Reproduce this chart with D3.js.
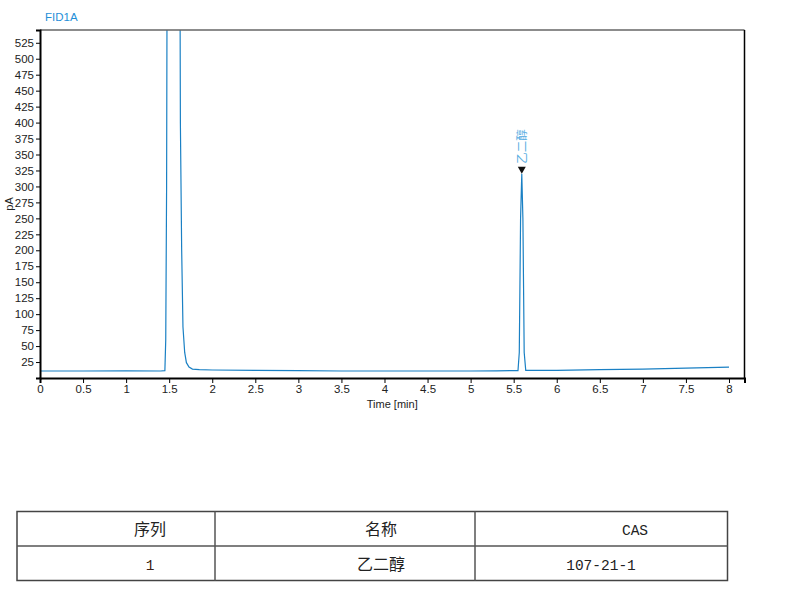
<!DOCTYPE html>
<html>
<head>
<meta charset="utf-8">
<script src="https://cdn.jsdelivr.net/npm/d3@7"></script>
<style>
  body { margin: 0; background: #fff; }
  svg { display: block; }
</style>
</head>
<body>
<script>
// chromatogram trace (time in min, signal in pA)
const times = [0, 0.5, 1.0, 1.4, 1.45, 1.46, 1.47, 1.48, 1.62, 1.63, 1.645, 1.66, 1.68, 1.70, 1.73, 1.77, 1.85,
  2.0, 2.5, 3.0, 3.5, 4.0, 4.5, 5.0, 5.3, 5.55, 5.565, 5.58, 5.594, 5.607, 5.622, 5.64, 6.0, 6.5, 7.0, 7.5, 8.0];
const signal = [11, 11, 11.3, 11, 11.5, 60, 300, 900, 900, 400, 200, 80, 40, 24, 17, 14, 13,
  12.5, 12, 11.5, 11, 11, 11, 11, 11.3, 11.5, 40, 250, 320, 250, 40, 12, 12, 13, 14, 15.5, 17];

// peak annotations
const peakTimes = [5.594];
const peakHeights = [320];
const peakNames = ["乙二醇"];

// axis ticks
const yTicks = d3.range(25, 526, 25);
const xTicks = d3.range(0, 8.01, 0.5);

// table below the chart
const tableHeader = ["序列", "名称", "CAS"];
const tableRow = ["1", "乙二醇", "107-21-1"];

const width = 787, height = 594;
const plot = { left: 40, right: 744.5, top: 30, bottom: 378 };
const lineColor = "#1a80c4";

const svg = d3.select("body").append("svg")
  .attr("width", width)
  .attr("height", height);

const x = d3.scaleLinear().domain([0, 8.18]).range([plot.left, plot.right]);
const y = d3.scaleLinear().domain([0, 545]).range([plot.bottom, plot.top]);

// title
svg.append("text")
  .attr("x", 45).attr("y", 21)
  .attr("font-family", "Liberation Sans, Arial, sans-serif")
  .attr("font-size", 11.5)
  .attr("fill", "#1f8fd8")
  .text("FID1A");

// clip for the off-scale solvent peak
svg.append("clipPath").attr("id", "clip")
  .append("rect")
  .attr("x", plot.left).attr("y", plot.top)
  .attr("width", plot.right - plot.left).attr("height", plot.bottom - plot.top);

const pts = times.map((t, i) => [t, signal[i]]);
svg.append("path")
  .datum(pts)
  .attr("clip-path", "url(#clip)")
  .attr("fill", "none")
  .attr("stroke", lineColor)
  .attr("stroke-width", 1.2)
  .attr("d", d3.line().x(d => x(d[0])).y(d => y(d[1])));

// frame
svg.append("line").attr("x1", plot.left).attr("x2", plot.right).attr("y1", plot.top).attr("y2", plot.top)
  .attr("stroke", "#666").attr("stroke-width", 1.5);
svg.append("line").attr("x1", plot.right).attr("x2", plot.right).attr("y1", plot.top).attr("y2", plot.bottom)
  .attr("stroke", "#000").attr("stroke-width", 1.5);

// y axis
const yAxis = svg.append("g")
  .attr("transform", `translate(${plot.left},0)`)
  .call(d3.axisLeft(y).tickValues(yTicks).tickSize(4).tickPadding(2).tickFormat(d3.format("d")));
yAxis.select(".domain").attr("stroke", "#000").attr("stroke-width", 2);

// x axis
const xAxis = svg.append("g")
  .attr("transform", `translate(0,${plot.bottom})`)
  .call(d3.axisBottom(x).tickValues(xTicks).tickSize(5).tickPadding(2).tickFormat(d3.format("~g")));
xAxis.select(".domain").attr("stroke", "#000").attr("stroke-width", 2);

svg.selectAll(".tick text")
  .attr("font-family", "Liberation Sans, Arial, sans-serif")
  .attr("font-size", 11.5)
  .attr("fill", "#222");

// axis titles
svg.append("text")
  .attr("x", (plot.left + plot.right) / 2)
  .attr("y", 408)
  .attr("text-anchor", "middle")
  .attr("font-family", "Liberation Sans, Arial, sans-serif")
  .attr("font-size", 11)
  .attr("fill", "#222")
  .text("Time [min]");

svg.append("text")
  .attr("transform", "translate(13,204) rotate(-90)")
  .attr("text-anchor", "middle")
  .attr("font-family", "Liberation Sans, Arial, sans-serif")
  .attr("font-size", 11)
  .attr("fill", "#222")
  .text("pA");

// peak markers + names
peakTimes.forEach((t, i) => {
  const px = x(t), py = y(peakHeights[i]);
  svg.append("path")
    .attr("d", `M${px - 4},${py - 7}L${px + 4},${py - 7}L${px},${py}Z`)
    .attr("fill", "#111");
  svg.append("text")
    .attr("transform", `translate(${px},${py - 10}) rotate(-90)`)
    .attr("dy", "0.35em")
    .attr("text-anchor", "start")
    .attr("font-family", "Noto Sans CJK SC, sans-serif")
    .attr("font-size", 11.5)
    .attr("fill", "#5aaee2")
    .text(peakNames[i]);
});

// table
const cols = [17, 215, 475, 727.5];
const rowsY = [511.5, 546, 580.5];
const textX = [150, 381, [635, 601]];
const tbl = svg.append("g");
tbl.append("rect")
  .attr("x", cols[0]).attr("y", rowsY[0])
  .attr("width", cols[3] - cols[0]).attr("height", rowsY[2] - rowsY[0])
  .attr("fill", "none").attr("stroke", "#444").attr("stroke-width", 1.5);
tbl.append("line").attr("x1", cols[0]).attr("x2", cols[3]).attr("y1", rowsY[1]).attr("y2", rowsY[1])
  .attr("stroke", "#555").attr("stroke-width", 1.5);
[cols[1], cols[2]].forEach(cx => {
  tbl.append("line").attr("x1", cx).attr("x2", cx).attr("y1", rowsY[0]).attr("y2", rowsY[2])
    .attr("stroke", "#555").attr("stroke-width", 1.5);
});

const cellFont = "Liberation Mono, Noto Sans CJK SC, monospace";
tableHeader.forEach((h, i) => {
  const tx = Array.isArray(textX[i]) ? textX[i][0] : textX[i];
  tbl.append("text")
    .attr("x", tx).attr("y", (rowsY[0] + rowsY[1]) / 2 + 2)
    .attr("dominant-baseline", "central")
    .attr("text-anchor", "middle")
    .attr("font-family", cellFont)
    .attr("font-size", i === 2 ? 14.5 : 16)
    .attr("fill", "#222")
    .text(h);
});
tableRow.forEach((v, i) => {
  const tx = Array.isArray(textX[i]) ? textX[i][1] : textX[i];
  tbl.append("text")
    .attr("x", tx).attr("y", (rowsY[1] + rowsY[2]) / 2 + 3)
    .attr("dominant-baseline", "central")
    .attr("text-anchor", "middle")
    .attr("font-family", cellFont)
    .attr("font-size", i === 1 ? 16 : 14.5)
    .attr("fill", i === 0 ? "#3b1f14" : "#222")
    .text(v);
});
</script>
</body>
</html>
